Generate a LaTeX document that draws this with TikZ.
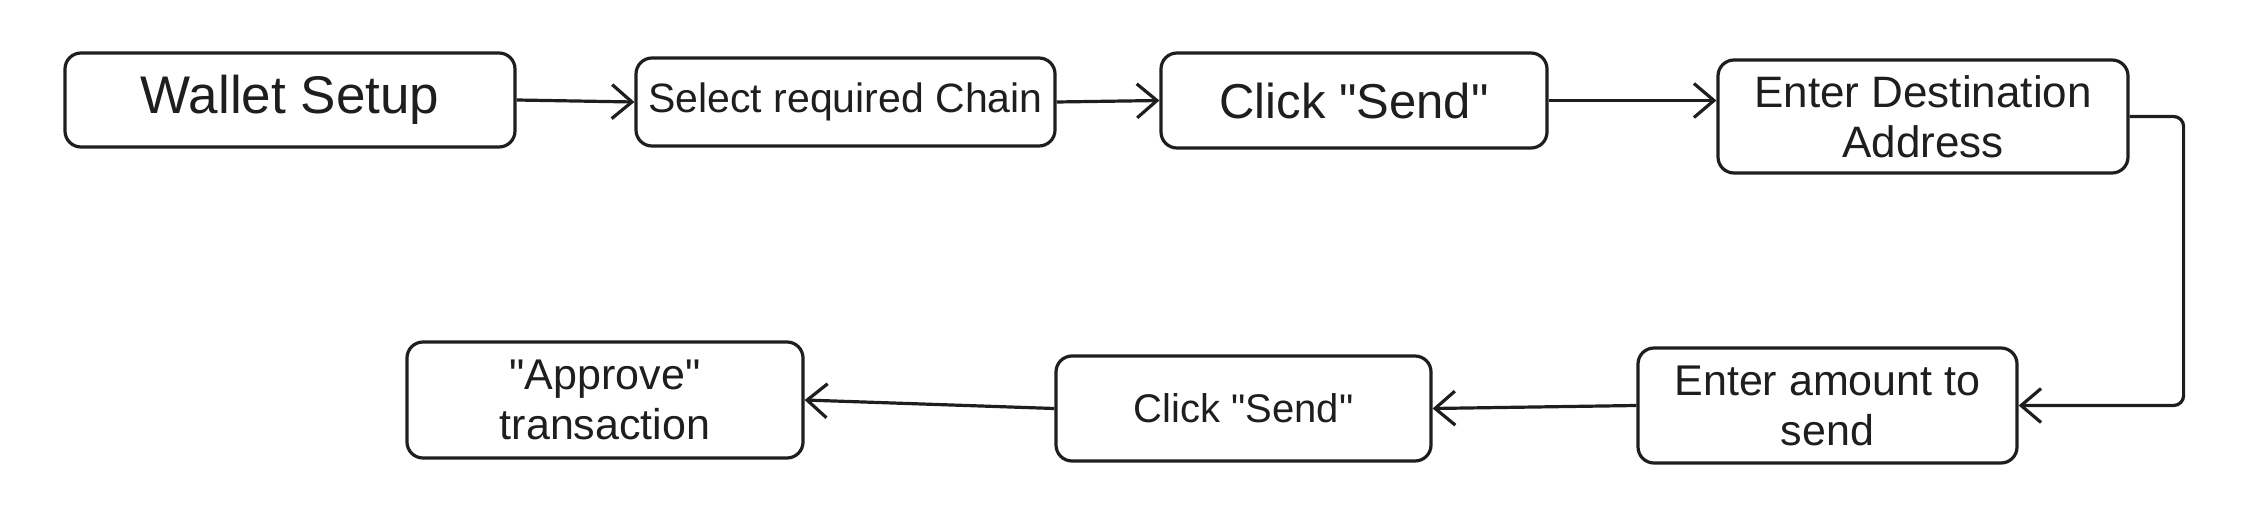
\documentclass[tikz,border=0pt]{standalone}
\usepackage{fontspec}
\setmainfont{Liberation Sans}[Ligatures=TeXOff]
\usetikzlibrary{arrows.meta}
\definecolor{ink}{HTML}{1E1E1E}
\tikzset{
  box/.style={draw=ink, line width=3.2pt, rounded corners=16pt, align=center, text=ink, inner sep=0pt},
  conn/.style={draw=ink, line width=3.2pt, -{Straight Barb[length=20pt,width=34pt,line width=3.2pt]}},
  fs/.style={font=\fontsize{#1}{50}\selectfont}
}
\begin{document}
\begin{tikzpicture}[x=1pt,y=-1pt]
\useasboundingbox (0,0) rectangle (2256,532);
\node[box,fs=53,minimum width=450pt,minimum height=94pt] (ws) at (290,100) {Wallet Setup};
\node[box,fs=41,minimum width=419pt,minimum height=88pt] (sel) at (845.5,102) {Select required Chain};
\node[box,fs=49,minimum width=386pt,minimum height=95pt] (cs1) at (1354,100.5) {Click "Send"};
\node[box,fs=44,minimum width=410pt,minimum height=113pt] (ed) at (1923,116.5) {Enter Destination\\Address};
\node[box,fs=43,minimum width=379pt,minimum height=115pt] (ea) at (1827.5,405.5) {Enter amount to\\send};
\node[box,fs=40,minimum width=375pt,minimum height=105pt] (cs2) at (1243.5,408.5) {Click "Send"};
\node[box,fs=43,minimum width=396pt,minimum height=116pt] (ap) at (605,400) {"Approve"\\transaction};
\coordinate (edin) at (cs1.east -| ed.west);
\draw[conn] (ws.east) -- (sel.west);
\draw[conn] (sel.east) -- (cs1.west);
\draw[conn] (cs1.east) -- (edin);
\draw[conn,rounded corners=10pt] (ed.east) -- ++(54,0) |- (ea.east);
\draw[conn] (ea.west) -- (cs2.east);
\draw[conn] (cs2.west) -- (ap.east);
\end{tikzpicture}
\end{document}
